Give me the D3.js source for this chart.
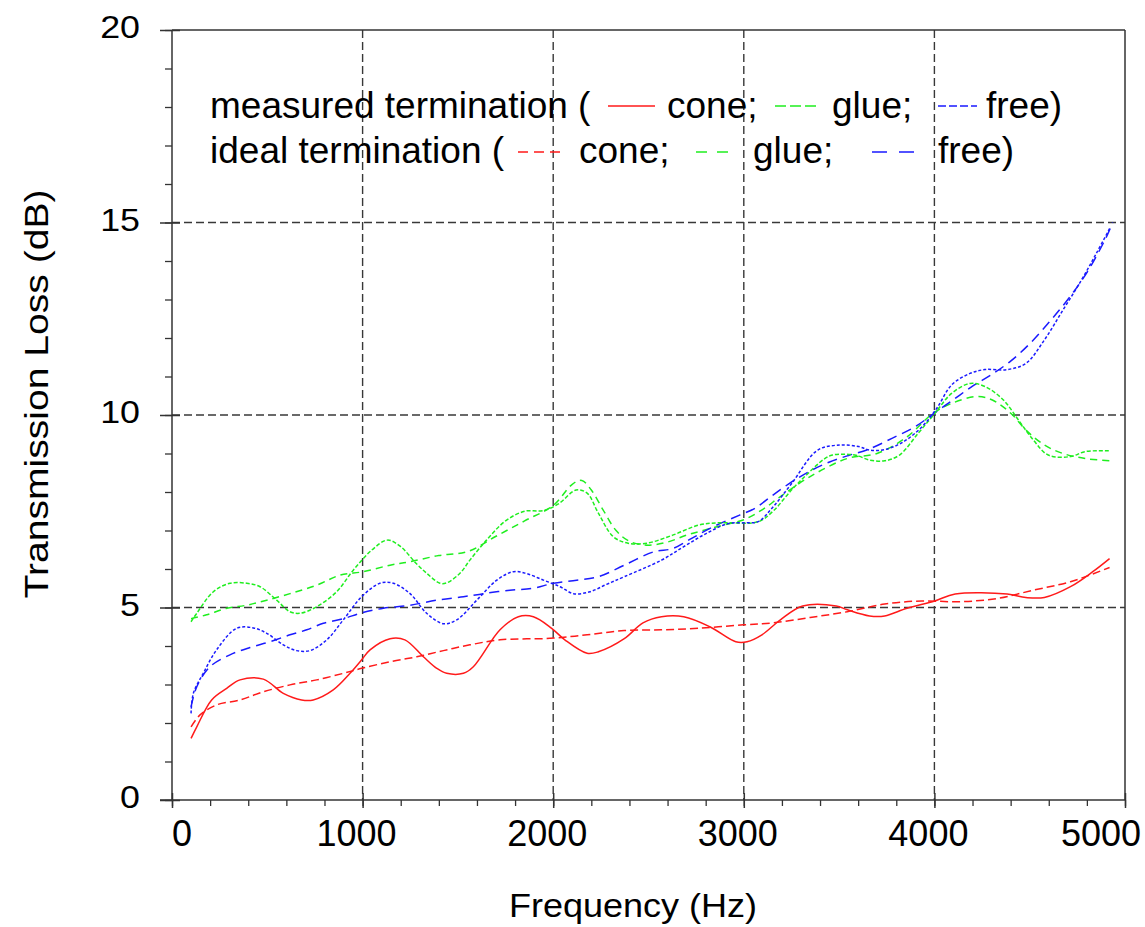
<!DOCTYPE html>
<html>
<head>
<meta charset="utf-8">
<script src="https://cdn.jsdelivr.net/npm/d3@7"></script>
<style>
  html, body { margin: 0; padding: 0; background: #fff; }
  svg { display: block; }
  text { font-family: "Liberation Sans", Arial, sans-serif; fill: #000; }
</style>
</head>
<body>
<svg id="chart" width="1145" height="927"></svg>
<script>
// ---------- DATA ----------
const xTickValues = [0, 1000, 2000, 3000, 4000, 5000];
const yTickValues = [0, 5, 10, 15, 20];
const xTickLabels = ["0", "1000", "2000", "3000", "4000", "5000"];
const yTickLabels = ["0", "5", "10", "15", "20"];
const xGridValues = [1000, 2000, 3000, 4000];
const yGridValues = [5, 10, 15];

// [frequency Hz, transmission loss dB]
const measuredCone = [[100,1.60],[130,1.90],[208,2.60],[287,2.90],[357,3.12],[479,3.14],[584,2.77],[680,2.60],[741,2.60],[846,2.86],[934,3.29],[995,3.64],[1039,3.90],[1144,4.19],[1222,4.16],[1319,3.72],[1389,3.42],[1441,3.29],[1529,3.29],[1581,3.46],[1721,4.42],[1817,4.76],[1896,4.76],[1992,4.46],[2061,4.16],[2178,3.81],[2237,3.85],[2373,4.19],[2471,4.60],[2568,4.76],[2685,4.76],[2822,4.50],[2958,4.11],[3017,4.11],[3095,4.29],[3192,4.68],[3309,5.04],[3485,5.04],[3543,4.94],[3660,4.78],[3739,4.78],[3856,4.98],[4002,5.17],[4109,5.35],[4382,5.35],[4480,5.26],[4577,5.26],[4714,5.54],[4831,5.93],[4919,6.27]];
const idealCone = [[100,1.90],[147,2.21],[234,2.47],[357,2.60],[479,2.81],[619,2.99],[759,3.12],[899,3.29],[995,3.42],[1144,3.59],[1284,3.72],[1424,3.88],[1563,4.03],[1721,4.16],[1983,4.20],[2178,4.29],[2373,4.40],[2568,4.42],[2763,4.46],[2997,4.55],[3153,4.60],[3348,4.74],[3543,4.89],[3739,5.09],[3934,5.17],[4129,5.15],[4324,5.23],[4519,5.45],[4714,5.67],[4919,6.04]];
const measuredGlue = [[100,4.63],[130,4.85],[217,5.41],[304,5.63],[392,5.63],[462,5.54],[549,5.19],[619,4.89],[672,4.85],[759,5.02],[864,5.41],[951,5.97],[1050,6.50],[1130,6.75],[1200,6.58],[1280,6.15],[1336,5.89],[1406,5.63],[1441,5.64],[1511,5.89],[1563,6.23],[1650,6.75],[1750,7.25],[1850,7.50],[1950,7.52],[2030,7.70],[2120,8.05],[2178,7.97],[2237,7.45],[2315,6.84],[2393,6.67],[2491,6.67],[2627,6.88],[2763,7.14],[2861,7.20],[3076,7.23],[3153,7.50],[3250,8.05],[3330,8.45],[3420,8.85],[3465,8.96],[3582,8.96],[3660,8.83],[3739,8.81],[3817,8.96],[3914,9.52],[4002,10.04],[4090,10.56],[4187,10.82],[4265,10.74],[4362,10.39],[4441,9.87],[4519,9.35],[4597,8.96],[4714,8.92],[4791,9.05],[4919,9.07]];
const idealGlue = [[100,4.71],[182,4.81],[287,4.98],[392,5.06],[497,5.19],[619,5.36],[759,5.58],[882,5.84],[1004,5.93],[1144,6.10],[1249,6.19],[1400,6.35],[1550,6.45],[1700,6.85],[1850,7.25],[2000,7.65],[2100,8.20],[2150,8.30],[2200,8.05],[2260,7.55],[2330,7.00],[2400,6.72],[2500,6.62],[2600,6.70],[2700,6.88],[2800,7.02],[2900,7.15],[3000,7.28],[3100,7.55],[3192,7.88],[3348,8.40],[3543,8.87],[3699,9.00],[3856,9.43],[3992,10.04],[4090,10.30],[4226,10.48],[4304,10.39],[4402,10.04],[4480,9.61],[4577,9.22],[4675,9.00],[4791,8.87],[4919,8.81]];
const measuredFree = [[100,2.25],[112,2.77],[164,3.29],[234,3.90],[339,4.46],[427,4.47],[497,4.33],[584,4.03],[654,3.88],[724,3.88],[812,4.16],[899,4.68],[995,5.28],[1091,5.63],[1161,5.63],[1249,5.36],[1336,4.85],[1424,4.58],[1494,4.68],[1599,5.19],[1704,5.71],[1791,5.93],[1861,5.88],[1949,5.71],[2036,5.54],[2106,5.36],[2193,5.41],[2280,5.60],[2373,5.80],[2568,6.23],[2685,6.58],[2802,6.92],[2919,7.18],[3017,7.20],[3076,7.23],[3153,7.61],[3251,8.22],[3388,9.09],[3505,9.22],[3602,9.18],[3660,9.09],[3739,9.10],[3836,9.30],[3934,9.69],[4012,10.17],[4090,10.78],[4187,11.08],[4265,11.18],[4382,11.18],[4480,11.34],[4577,11.95],[4675,12.73],[4772,13.51],[4850,14.20],[4919,14.84]];
const idealFree = [[100,2.42],[130,2.94],[199,3.46],[304,3.77],[409,3.96],[514,4.11],[619,4.29],[707,4.42],[794,4.59],[899,4.71],[995,4.86],[1109,4.98],[1249,5.06],[1389,5.19],[1529,5.28],[1634,5.36],[1773,5.45],[1896,5.50],[2001,5.63],[2123,5.71],[2237,5.80],[2373,6.10],[2529,6.45],[2627,6.53],[2724,6.79],[2841,7.10],[2978,7.40],[3056,7.57],[3153,7.92],[3251,8.26],[3350,8.55],[3450,8.78],[3550,8.95],[3650,9.10],[3780,9.40],[3900,9.70],[4000,10.05],[4100,10.40],[4200,10.75],[4300,11.05],[4400,11.40],[4500,11.85],[4600,12.40],[4700,13.00],[4800,13.70],[4900,14.60],[4935,15.00]];

const legendRow1 = ["measured termination (", "cone;", "glue;", "free)"];
const legendRow2 = ["ideal termination (", "cone;", "glue;", "free)"];

// ---------- STYLES ----------
const RED = "#ff1a1a", GREEN = "#1fee1f", BLUE = "#1a1aff";
const seriesList = [
  { data: idealCone,    color: RED,   dash: "8,4",  legendDash: "10,6" },
  { data: idealGlue,    color: GREEN, dash: "7,5",  legendDash: "11,10" },
  { data: idealFree,    color: BLUE,  dash: "10,6", legendDash: "15,12" },
  { data: measuredCone, color: RED,   dash: null,   legendDash: null },
  { data: measuredGlue, color: GREEN, dash: "4,2",  legendDash: "11,4" },
  { data: measuredFree, color: BLUE,  dash: "3,2",  legendDash: "8,3" }
];

const svg = d3.select("#chart");
const x = d3.scaleLinear().domain([0, 5000]).range([172, 1125]);
const y = d3.scaleLinear().domain([0, 20]).range([800, 30]);

// grid
const grid = svg.append("g").attr("stroke", "#383838").attr("stroke-width", 1.4).attr("stroke-dasharray", "8,4");
grid.selectAll("line.v").data(xGridValues).join("line")
  .attr("x1", d => x(d)).attr("x2", d => x(d)).attr("y1", y(20)).attr("y2", y(0));
grid.selectAll("line.h").data(yGridValues).join("line")
  .attr("x1", x(0)).attr("x2", x(5000)).attr("y1", d => y(d)).attr("y2", d => y(d));

// frame (top and right)
svg.append("line").attr("x1", x(0)).attr("x2", x(5000)).attr("y1", y(20)).attr("y2", y(20)).attr("stroke", "#333").attr("stroke-width", 1.5);
svg.append("line").attr("x1", x(5000)).attr("x2", x(5000)).attr("y1", y(20)).attr("y2", y(0)).attr("stroke", "#333").attr("stroke-width", 1.5);

// x axis minor + major
const xAxisMinor = d3.axisBottom(x).tickValues(d3.range(0, 5001, 200)).tickSize(6).tickFormat("").tickSizeOuter(0);
const gx = svg.append("g").attr("transform", `translate(0,${y(0)})`).call(xAxisMinor);
gx.select(".domain").attr("d", `M160,0H${x(5000)}`).attr("stroke", "#333").attr("stroke-width", 1.5);
gx.selectAll(".tick line").attr("stroke", "#333").attr("stroke-width", 1.3);
const gxMajor = svg.append("g").attr("transform", `translate(0,${y(0)})`)
  .call(d3.axisBottom(x).tickValues(xTickValues).tickSize(8).tickFormat("").tickSizeOuter(0));
gxMajor.select(".domain").remove();
gxMajor.selectAll(".tick line").attr("y1", -7).attr("stroke", "#333").attr("stroke-width", 1.5);

// y axis minor + major
const gy = svg.append("g").attr("transform", `translate(${x(0)},0)`)
  .call(d3.axisLeft(y).tickValues(d3.range(0, 21, 1)).tickSize(7).tickFormat("").tickSizeOuter(0));
gy.select(".domain").attr("d", `M0,${y(20)}V${y(0)}`).attr("stroke", "#333").attr("stroke-width", 1.5);
gy.selectAll(".tick line").attr("stroke", "#333").attr("stroke-width", 1.3);
const gyMajor = svg.append("g").attr("transform", `translate(${x(0)},0)`)
  .call(d3.axisLeft(y).tickValues(yTickValues).tickSize(12).tickFormat("").tickSizeOuter(0));
gyMajor.select(".domain").remove();
gyMajor.selectAll(".tick line").attr("x2", 8).attr("x1", -12).attr("stroke", "#333").attr("stroke-width", 1.5);

// tick labels
const xl = svg.append("g").selectAll("text").data(xTickValues).join("text")
  .attr("x", d => x(d) - 6).attr("y", 846).attr("text-anchor", "middle")
  .style("font-size", "36px").text((d, i) => xTickLabels[i]);
xl.each(function() {
  const bb = this.getBBox();
  let cx = +this.getAttribute("x");
  if (bb.x < x(0)) cx += x(0) - bb.x;
  if (bb.x + bb.width > 1141) cx -= bb.x + bb.width - 1141;
  this.setAttribute("x", cx);
});
svg.append("g").selectAll("text").data(yTickValues).join("text")
  .attr("transform", d => `translate(140,${y(d) + 8}) scale(1.12,1)`)
  .attr("text-anchor", "end").style("font-size", "32px").text((d, i) => yTickLabels[i]);

// axis titles
svg.append("text").attr("transform", "translate(633,917) scale(1.06,1)")
  .attr("text-anchor", "middle").style("font-size", "34px").text("Frequency (Hz)");
svg.append("text").attr("transform", "translate(48,394) rotate(-90) scale(1.15,1)")
  .attr("text-anchor", "middle").style("font-size", "34px").text("Transmission Loss (dB)");

// curves
const line = d3.line().x(d => x(d[0])).y(d => y(d[1])).curve(d3.curveCatmullRom.alpha(0.5));
svg.append("g").selectAll("path").data(seriesList).join("path")
  .attr("d", s => line(s.data)).attr("fill", "none")
  .attr("stroke", s => s.color).attr("stroke-width", 1.5)
  .attr("stroke-dasharray", s => s.dash);

// legend
const lg = svg.append("g").style("font-size", "37px");
const row1 = { y: 118, lineY: 106, textX: [210, 667, 832, 986], lineX: [[608, 655], [775, 816], [938, 977]], series: [3, 4, 5], labels: legendRow1 };
const row2 = { y: 163, lineY: 152, textX: [210, 579, 753, 938], lineX: [[518, 560], [696, 728], [872, 914]], series: [0, 1, 2], labels: legendRow2 };
[row1, row2].forEach(r => {
  r.labels.forEach((t, i) => lg.append("text").attr("x", r.textX[i]).attr("y", r.y).text(t));
  r.series.forEach((si, i) => {
    const s = seriesList[si];
    lg.append("line").attr("x1", r.lineX[i][0]).attr("x2", r.lineX[i][1])
      .attr("y1", r.lineY).attr("y2", r.lineY)
      .attr("stroke", s.color).attr("stroke-width", 1.5).attr("stroke-dasharray", s.legendDash);
  });
});
</script>
</body>
</html>
